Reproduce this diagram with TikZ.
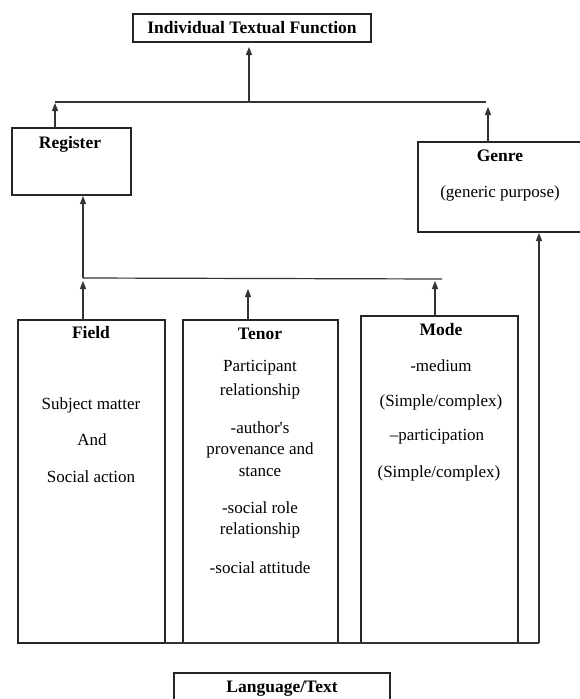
\documentclass[tikz,border=0pt]{standalone}
\usepackage{fontspec}
\setmainfont{Liberation Serif}[Ligatures=TeXOff]
\usetikzlibrary{arrows.meta}
\begin{document}
\begin{tikzpicture}[x=1pt,y=-1pt,
  line width=1.2pt,
  box/.style={draw=black!85, line width=1.2pt, inner sep=0pt, outer sep=0pt, anchor=north west},
  txt/.style={inner sep=0pt, font=\fontsize{17}{20}\selectfont},
  btxt/.style={inner sep=0pt, font=\fontsize{17.5}{20}\selectfont\bfseries},
  conn/.style={draw=black!80, line width=1.2pt},
  arr/.style={conn, -{Triangle[width=6pt,length=8pt]}}]
\useasboundingbox (0,0) rectangle (579,699);
% boxes
\node[box, minimum width=238pt, minimum height=28pt] (itf) at (133,14) {};
\node[box, minimum width=119pt, minimum height=67pt] (reg) at (12,128) {};
\node[box, minimum width=180pt, minimum height=90pt] (gen) at (418,142) {};
\node[box, minimum width=147pt, minimum height=323pt] (field) at (18,320) {};
\node[box, minimum width=155pt, minimum height=323pt] (tenor) at (183,320) {};
\node[box, minimum width=157pt, minimum height=327pt] (mode) at (361,316) {};
\node[box, minimum width=216pt, minimum height=40pt] (lang) at (174,673) {};
% texts
\node[btxt] (titf) at (252,28) {Individual Textual Function};
\node[btxt] (treg) at (70,144) {Register};
\node[btxt] (tgen) at (500,156) {Genre};
\node[txt] (tgen2) at (500,193) {(generic purpose)};
\node[btxt] (tfield) at (91,333) {Field};
\node[txt] (tf1) at (91,405) {Subject matter};
\node[txt] (tf2) at (92,440) {And};
\node[txt] (tf3) at (91,477) {Social action};
\node[btxt] (ttenor) at (260,334) {Tenor};
\node[txt] (tt1) at (260,368) {Participant};
\node[txt] (tt2) at (260,391) {relationship};
\node[txt] (tt3) at (260,428) {-author's};
\node[txt] (tt4) at (260,450) {provenance and};
\node[txt] (tt5) at (260,472) {stance};
\node[txt] (tt6) at (260,508) {-social role};
\node[txt] (tt7) at (260,530) {relationship};
\node[txt] (tt8) at (260,568) {-social attitude};
\node[btxt] (tmode) at (441,330) {Mode};
\node[txt] (tm1) at (441,366) {-medium};
\node[txt] (tm2) at (441,402) {(Simple/complex)};
\node[txt] (tm3) at (437,437) {–participation};
\node[txt] (tm4) at (439,473) {(Simple/complex)};
\node[btxt] (tlang) at (282,689) {Language/Text};
% junction coordinates
\coordinate (j1L) at (55,102);
\coordinate (j1M) at (249,102);
\coordinate (j1R) at (486,102);
\coordinate (j1G) at (488,102);
\coordinate (j2L) at (83,278);
\coordinate (j2M) at (248,278);
\coordinate (j2R) at (442,279);
\coordinate (j2D) at (435,279);
\coordinate (b2) at (539,643);
% connectors
\draw[conn] (j1L) -- (j1R);
\draw[arr, shorten >=5pt] (j1M) -- (itf.south -| j1M);
\draw[arr, shorten >=1pt] (reg.north -| j1L) -- (j1L);
\draw[arr, shorten >=5pt] (gen.north -| j1G) -- (j1G);
\draw[conn] (j2L) -- (j2R);
\draw[arr, shorten >=1pt] (j2L) -- (reg.south -| j2L);
\draw[arr, shorten >=3pt] (field.north -| j2L) -- (j2L);
\draw[arr, shorten >=11pt] (tenor.north -| j2M) -- (j2M);
\draw[arr, shorten >=2pt] (mode.north -| j2D) -- (j2D);
\draw[conn] (field.south east) -- (b2);
\draw[arr, shorten >=1pt] (b2) -- (gen.south -| b2);
\end{tikzpicture}
\end{document}
